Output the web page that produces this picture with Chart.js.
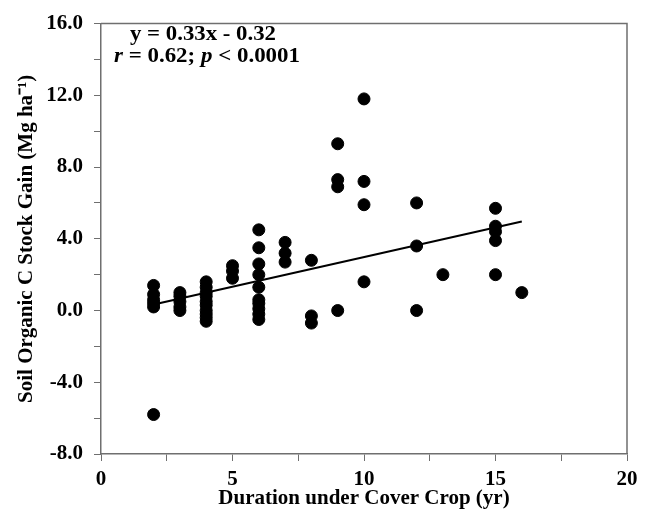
<!DOCTYPE html>
<html lang="en">

<head>
    <meta charset="UTF-8">
    <meta name="viewport" content="width=device-width, initial-scale=1.0">
    <script src="https://cdn.jsdelivr.net/npm/chart.js"></script>
    <title>Soil Organic C Stock Gain</title>
    <style>
        body { margin: 0; background: #fff; }
    </style>
</head>

<body>
    <canvas id="Dispersao" width="655" height="514"></canvas>
</body>
<script>

    // duration under cover crop (yr) and SOC gain (Mg/ha)
    let duracao = [
        2, 2, 2, 2, 2, 2,
        3, 3, 3, 3, 3,
        4, 4, 4, 4, 4, 4, 4, 4, 4, 4,
        5, 5, 5,
        6, 6, 6, 6, 6, 6, 6, 6, 6, 6,
        7, 7, 7,
        8, 8, 8,
        9, 9, 9, 9,
        10, 10, 10, 10,
        12, 12, 12,
        13,
        15, 15, 15, 15, 15,
        16
    ];
    let ganho = [
        1.4, 0.9, 0.6, 0.4, 0.2, -5.8,
        1.0, 0.8, 0.5, 0.2, 0.0,
        1.6, 1.3, 1.0, 0.8, 0.5, 0.3, 0.0, -0.2, -0.4, -0.6,
        2.5, 2.2, 1.8,
        4.5, 3.5, 2.6, 2.0, 1.3, 0.6, 0.4, 0.1, -0.2, -0.5,
        3.8, 3.2, 2.7,
        2.8, -0.3, -0.7,
        9.3, 7.3, 6.9, 0.0,
        11.8, 7.2, 5.9, 1.6,
        6.0, 3.6, 0.0,
        2.0,
        5.7, 4.7, 4.4, 3.9, 2.0,
        1.0
    ];

    // fitted line y = 0.33x - 0.32, drawn between its two ends
    let retaX = [2, 16];
    let retaY = [0.34, 4.96];

    let textoEquacao = 'y = 0.33x - 0.32';

    let fonte = '"Liberation Serif", "Times New Roman", serif';

    let pontos = [];
    for (let i = 0; i < duracao.length; i++) {
        pontos.push({ x: duracao[i], y: ganho[i] });
    }
    let reta = [];
    for (let i = 0; i < retaX.length; i++) {
        reta.push({ x: retaX[i], y: retaY[i] });
    }

    // writes a line made of pieces (font, text), centred on cx and stretched to largura
    function escreverLinha(ctx, partes, cx, cy, largura) {
        let total = 0;
        partes.forEach(function (p) {
            ctx.font = p[0] + fonte;
            total += ctx.measureText(p[1]).width;
        });
        let esc = largura / total;
        ctx.save();
        ctx.translate(cx - largura / 2, cy);
        ctx.scale(esc, 1);
        let x = 0;
        partes.forEach(function (p) {
            ctx.font = p[0] + fonte;
            ctx.fillText(p[1], x, 0);
            x += ctx.measureText(p[1]).width;
        });
        ctx.restore();
    }

    // box around the plot and the equation text
    const caixa = {
        id: 'caixa',
        afterDraw(chart) {
            const ctx = chart.ctx;
            const a = chart.chartArea;
            ctx.save();
            ctx.strokeStyle = '#6f6f6f';
            ctx.lineWidth = 1.5;
            ctx.beginPath();
            ctx.moveTo(a.left, a.top);
            ctx.lineTo(a.right, a.top);
            ctx.lineTo(a.right, a.bottom);
            ctx.stroke();

            ctx.fillStyle = '#000';
            ctx.textBaseline = 'middle';
            ctx.textAlign = 'left';

            escreverLinha(ctx, [['bold 20px ', textoEquacao]], 203, 35, 146);
            escreverLinha(ctx, [
                ['italic bold 20px ', 'r'],
                ['bold 20px ', ' = 0.62; '],
                ['italic bold 20px ', 'p'],
                ['bold 20px ', ' < 0.0001']
            ], 207, 57, 186);
            ctx.restore();
        }
    };

    const config = {
        type: 'scatter',
        data: {
            datasets: [
                {
                    label: 'SOC gain',
                    data: pontos,
                    backgroundColor: '#000',
                    borderColor: '#000',
                    pointRadius: 6,
                    pointHoverRadius: 6
                },
                {
                    label: 'Fit',
                    type: 'line',
                    data: reta,
                    borderColor: '#000',
                    borderWidth: 2,
                    pointRadius: 0,
                    fill: false
                }
            ]
        },
        options: {
            responsive: false,
            animation: false,
            layout: {
                padding: { top: 18, right: 28, left: 0, bottom: 0 }
            },
            scales: {
                x: {
                    type: 'linear',
                    min: 0,
                    max: 20,
                    afterFit: function (s) { s.height = 60; },
                    border: { color: '#6f6f6f', width: 1.5 },
                    grid: {
                        drawOnChartArea: false,
                        tickLength: 7,
                        color: '#6f6f6f',
                        tickColor: '#6f6f6f'
                    },
                    ticks: {
                        stepSize: 2.5,
                        autoSkip: false,
                        maxRotation: 0,
                        padding: 6,
                        color: '#000',
                        font: { family: fonte, size: 21, weight: 'bold' },
                        callback: function (v) { return v % 5 === 0 ? String(v) : ''; }
                    },
                    title: {
                        display: true,
                        text: 'Duration under Cover Crop (yr)',
                        color: '#000',
                        font: { family: fonte, size: 21, weight: 'bold' },
                        padding: { top: 0, bottom: 3 }
                    }
                },
                y: {
                    type: 'linear',
                    min: -8,
                    max: 16,
                    afterFit: function (s) { s.width = 101; },
                    border: { color: '#6f6f6f', width: 1.5 },
                    grid: {
                        drawOnChartArea: false,
                        tickLength: 7,
                        color: '#6f6f6f',
                        tickColor: '#6f6f6f'
                    },
                    ticks: {
                        stepSize: 2,
                        autoSkip: false,
                        padding: 11,
                        color: '#000',
                        font: { family: fonte, size: 21, weight: 'bold' },
                        callback: function (v) { return v % 4 === 0 ? v.toFixed(1) : ''; }
                    },
                    title: {
                        display: true,
                        text: 'Soil Organic C Stock Gain (Mg ha\u207B\u00B9)',
                        color: '#000',
                        font: { family: fonte, size: 21, weight: 'bold' },
                        padding: { top: 14, bottom: 0 }
                    }
                }
            },
            plugins: {
                legend: { display: false },
                tooltip: { enabled: false }
            }
        },
        plugins: [caixa]
    };

    let myChart = new Chart(
        document.getElementById('Dispersao'),
        config
    );

</script>

</html>
